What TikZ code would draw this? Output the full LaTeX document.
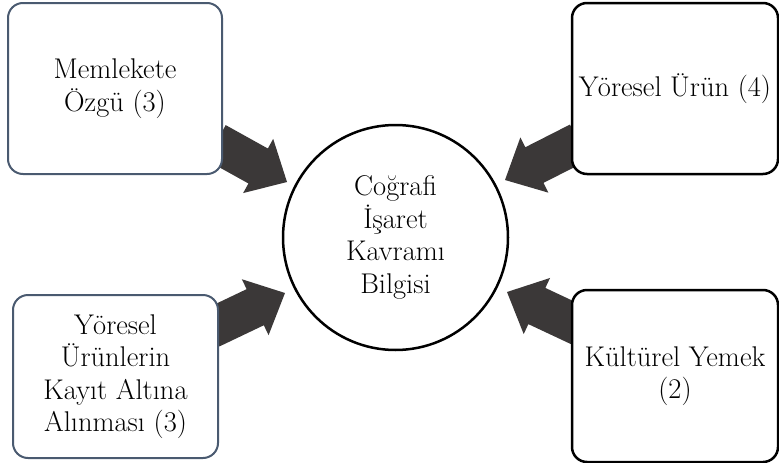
\documentclass[tikz,border=0pt]{standalone}
\usetikzlibrary{calc,backgrounds}
\definecolor{arrowgray}{HTML}{3B3838}
\definecolor{slate}{HTML}{4A5A70}
\newcommand\blockarrow[2]{%
  \fill[arrowgray]
    ($(#1)!20pt!90:(#2)$) --
    ($(#2)!33pt!(#1)!20pt!-90:(#1)$) --
    ($(#2)!33pt!(#1)!31pt!-90:(#1)$) --
    (#2) --
    ($(#2)!33pt!(#1)!31pt!90:(#1)$) --
    ($(#2)!33pt!(#1)!20pt!90:(#1)$) --
    ($(#1)!20pt!-90:(#2)$) -- cycle;}
\begin{document}
\begin{tikzpicture}[x=1pt,y=-1pt,
  txt/.style={font=\fontsize{28.5}{32.5}\selectfont, align=center, text=black},
  boxslate/.style={txt, draw=slate, line width=2pt, rounded corners=15pt, fill=white, inner sep=0pt},
  boxblack/.style={txt, draw=black, line width=2.5pt, rounded corners=15pt, fill=white, inner sep=0pt},
  hub/.style={txt, circle, draw=black, line width=2.5pt, fill=white, minimum size=225pt, inner sep=0pt}]
\useasboundingbox (0,0) rectangle (779,463);

\node[boxslate, minimum width=214pt, minimum height=171pt] (tl) at (115,88.5) {Memlekete\\Özgü (3)};
\node[boxblack, minimum width=206pt, minimum height=171pt] (tr) at (675,88.5) {Yöresel Ürün (4)};
\node[boxslate, minimum width=205pt, minimum height=163pt] (bl) at (115.5,376.5) {Yöresel\\Ürünlerin\\Kayıt Altına\\Alınması (3)};
\node[boxblack, minimum width=206pt, minimum height=172pt] (br) at (675,376) {Kültürel Yemek\\(2)};
\node[hub] (c) at (395.5,237.5) {Coğrafi\\İşaret\\Kavramı\\Bilgisi};

\coordinate (s1) at (216,142.6);   \coordinate (t1) at (287,182);
\coordinate (s2) at (579,142.4);   \coordinate (t2) at (505,180);
\coordinate (s3) at (210.8,328.4); \coordinate (t3) at (285,293);
\coordinate (s4) at (579.2,325.9); \coordinate (t4) at (507,292);

\begin{pgfonlayer}{background}
\blockarrow{s1}{t1}
\blockarrow{s2}{t2}
\blockarrow{s3}{t3}
\blockarrow{s4}{t4}
\end{pgfonlayer}
\end{tikzpicture}
\end{document}
